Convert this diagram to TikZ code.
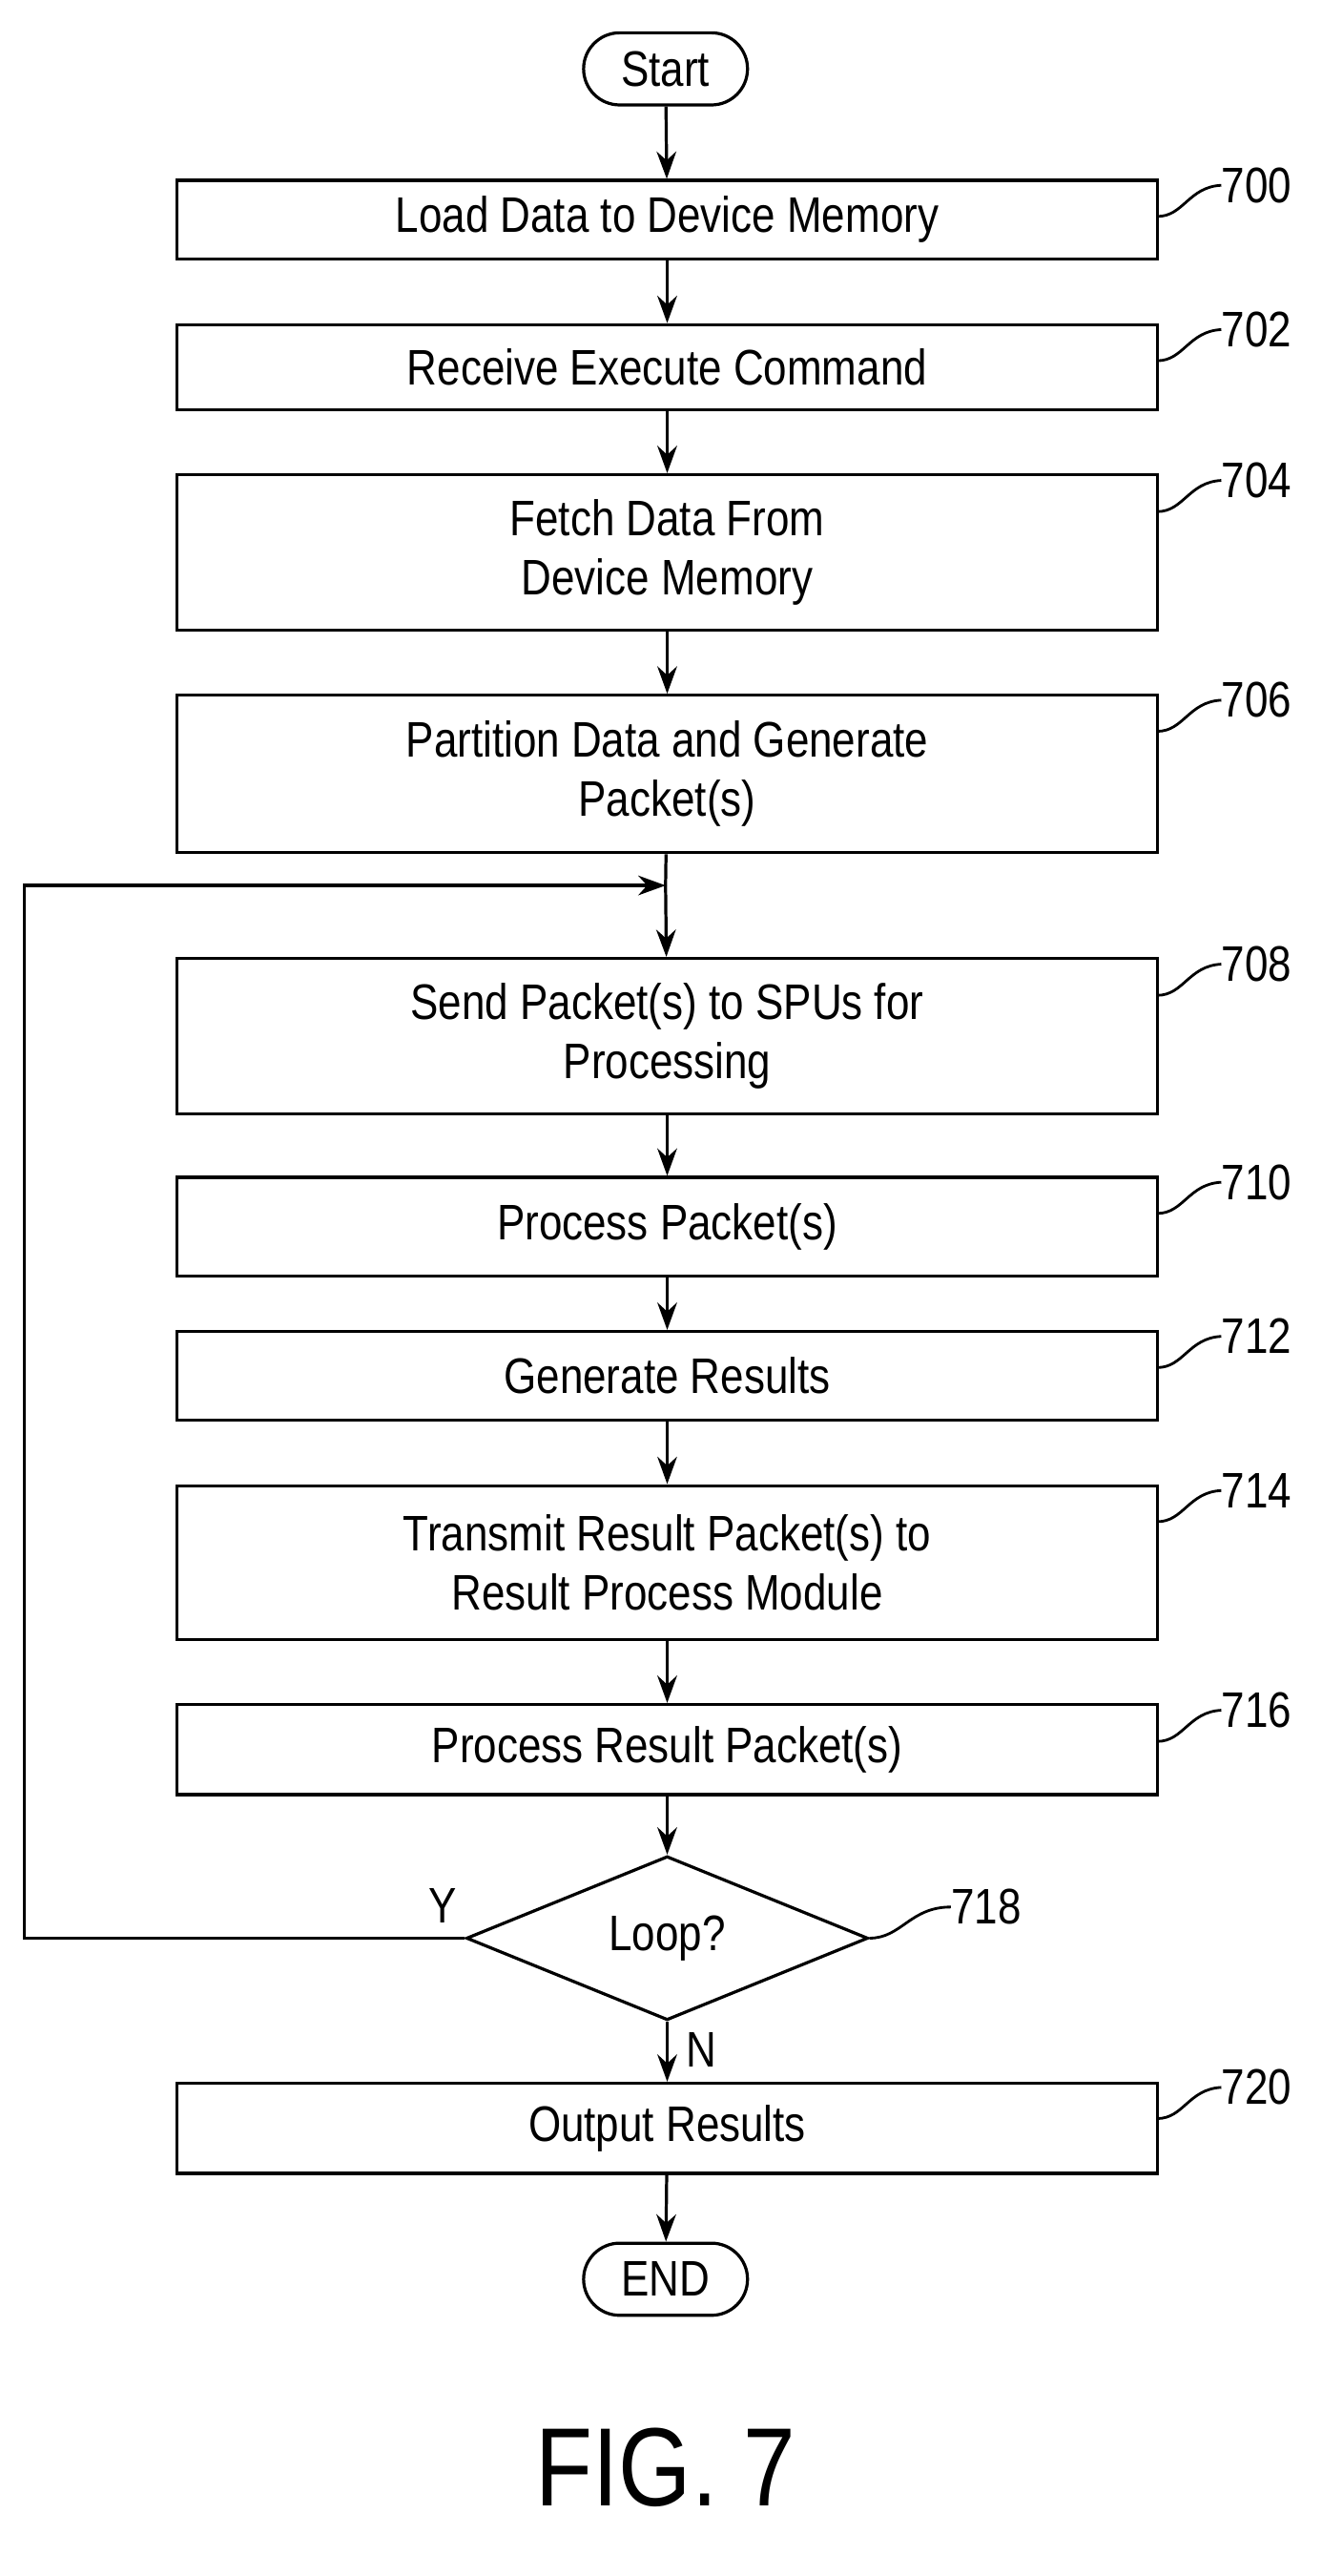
\documentclass[tikz,border=0pt]{standalone}
\usepackage{fontspec}
\setmainfont{Liberation Sans}[FakeStretch=0.84]
\usetikzlibrary{shapes.geometric,arrows.meta}
\begin{document}
\begin{tikzpicture}[x=0.03cm,y=-0.03cm,
  every node/.style={font=\fontsize{26}{31}\selectfont},
  box/.style={draw,line width=1.6pt,minimum width=17.94cm,align=center,inner sep=0pt},
  term/.style={draw,line width=1.6pt,rounded corners=0.66cm,minimum width=3cm,minimum height=1.32cm,inner sep=0pt},
  arr/.style={line width=1.6pt,-{Stealth[length=0.5cm,width=0.36cm]}},
  lead/.style={line width=1.4pt},
  num/.style={anchor=west,inner sep=0pt}]
\useasboundingbox (0,0) rectangle (806,1571);
\node[term] (start) at (406,42) {Start};
\node[box,minimum height=1.44cm] (b700) at (407,134) {Load Data to Device Memory};
\node[box,minimum height=1.56cm] (b702) at (407,224) {Receive Execute Command};
\node[box,minimum height=2.85cm] (b704) at (407,337) {Fetch Data From\\Device Memory};
\node[box,minimum height=2.88cm] (b706) at (407,472) {Partition Data and Generate\\Packet(s)};
\coordinate (j) at (406,540);
\node[box,minimum height=2.85cm] (b708) at (407,632) {Send Packet(s) to SPUs for\\Processing};
\node[box,minimum height=1.8cm] (b710) at (407,748) {Process Packet(s)};
\node[box,minimum height=1.62cm] (b712) at (407,839) {Generate Results};
\node[box,minimum height=2.82cm] (b714) at (407,953) {Transmit Result Packet(s) to\\Result Process Module};
\node[box,minimum height=1.65cm] (b716) at (407,1067) {Process Result Packet(s)};
\node[diamond,draw,line width=1.6pt,minimum width=7.35cm,minimum height=3cm,inner sep=0pt,aspect=2.45] (d718) at (407,1182) {Loop?};
\node[box,minimum height=1.65cm] (b720) at (407,1298) {Output Results};
\node[term] (end) at (406,1390) {END};
\node[font=\fontsize{58}{66}\selectfont] (fig) at (406,1505) {FIG. 7};

\draw[arr] (start) -- (b700);
\draw[arr] (b700) -- (b702);
\draw[arr] (b702) -- (b704);
\draw[arr] (b704) -- (b706);
\draw[line width=1.6pt] (b706) -- (j);
\draw[arr] (j) -- (b708);
\draw[arr] (b708) -- (b710);
\draw[arr] (b710) -- (b712);
\draw[arr] (b712) -- (b714);
\draw[arr] (b714) -- (b716);
\draw[arr] (b716) -- (d718);
\draw[arr] (d718) -- (b720);
\draw[arr] (b720) -- (end);
\draw[arr] (d718.west) -- (15,1182) -- (15,540) -- (j);
\node at (270,1162) (y) {Y};
\node at (428,1250) (n) {N};

\foreach \b/\t/\n in {b700/110/700,b702/198/702,b704/290/704,b706/424/706,b708/585/708,b710/718/710,b712/812/712,b714/906/714,b716/1040/716,b720/1270/720}{
  \node[num] (l\n) at (745,\t+3) {\n};
  \draw[lead] (706,\t+22) .. controls (722,\t+22) and (725,\t+4) .. (l\n.west);
}
\node[num] (l718) at (580,1163) {718};
\draw[lead] (d718.east) .. controls (550,1182) and (555,1163) .. (l718.west);
\end{tikzpicture}
\end{document}
